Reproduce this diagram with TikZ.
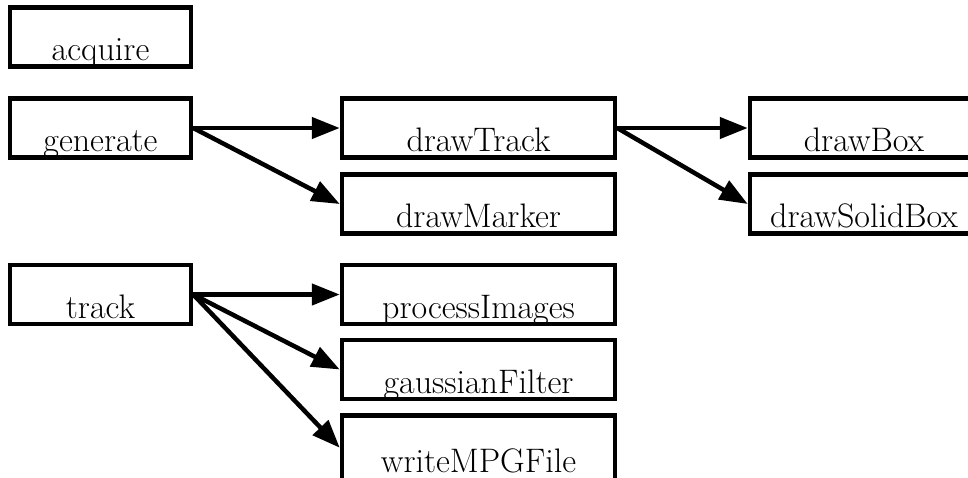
\documentclass[tikz,border=0pt]{standalone}
\usetikzlibrary{arrows.meta}
\begin{document}
\begin{tikzpicture}[x=1pt,y=-1pt,
  fnbox/.style={draw, line width=4.5pt, inner sep=0pt, rectangle,
    text height=53pt, text depth=6pt,
    font=\fontsize{34}{40}\selectfont},
  leftcol/.style={fnbox, minimum width=181pt},
  midcol/.style={fnbox, minimum width=273pt},
  rightcol/.style={fnbox, minimum width=228pt},
  call/.style={line width=4.5pt, -{Triangle[length=28pt,width=21pt]}}]
\clip (0,0) rectangle (968,477);
\fill[white] (0,0) rectangle (968,477);

% top-level functions
\node[leftcol] (acquire)  at (100.5,37)    {acquire};
\node[leftcol] (generate) at (100.5,128)   {generate};
\node[leftcol] (track)    at (100.5,294.5) {track};

% helpers
\node[midcol] (drawTrack)      at (478.5,128)   {drawTrack};
\node[midcol] (drawMarker)     at (478.5,204)   {drawMarker};
\node[midcol] (processImages)  at (478.5,294.5) {processImages};
\node[midcol] (gaussianFilter) at (478.5,369.5) {gaussianFilter};
\node[midcol, text height=57pt, text depth=8pt] (writeMPGFile) at (478.5,447.75) {writeMPGFile};

\node[rightcol] (drawBox)      at (864,128) {drawBox};
\node[rightcol] (drawSolidBox) at (864,204) {drawSolidBox};

% call edges
\draw[call] (generate.east) -- (drawTrack.west);
\draw[call] (generate.east) -- (drawMarker.west);
\draw[call] (drawTrack.east) -- (drawBox.west);
\draw[call] (drawTrack.east) -- (drawSolidBox.west);
\draw[call] (track.east) -- (processImages.west);
\draw[call] (track.east) -- (gaussianFilter.west);
\draw[call] (track.east) -- (writeMPGFile.west);
\end{tikzpicture}
\end{document}
